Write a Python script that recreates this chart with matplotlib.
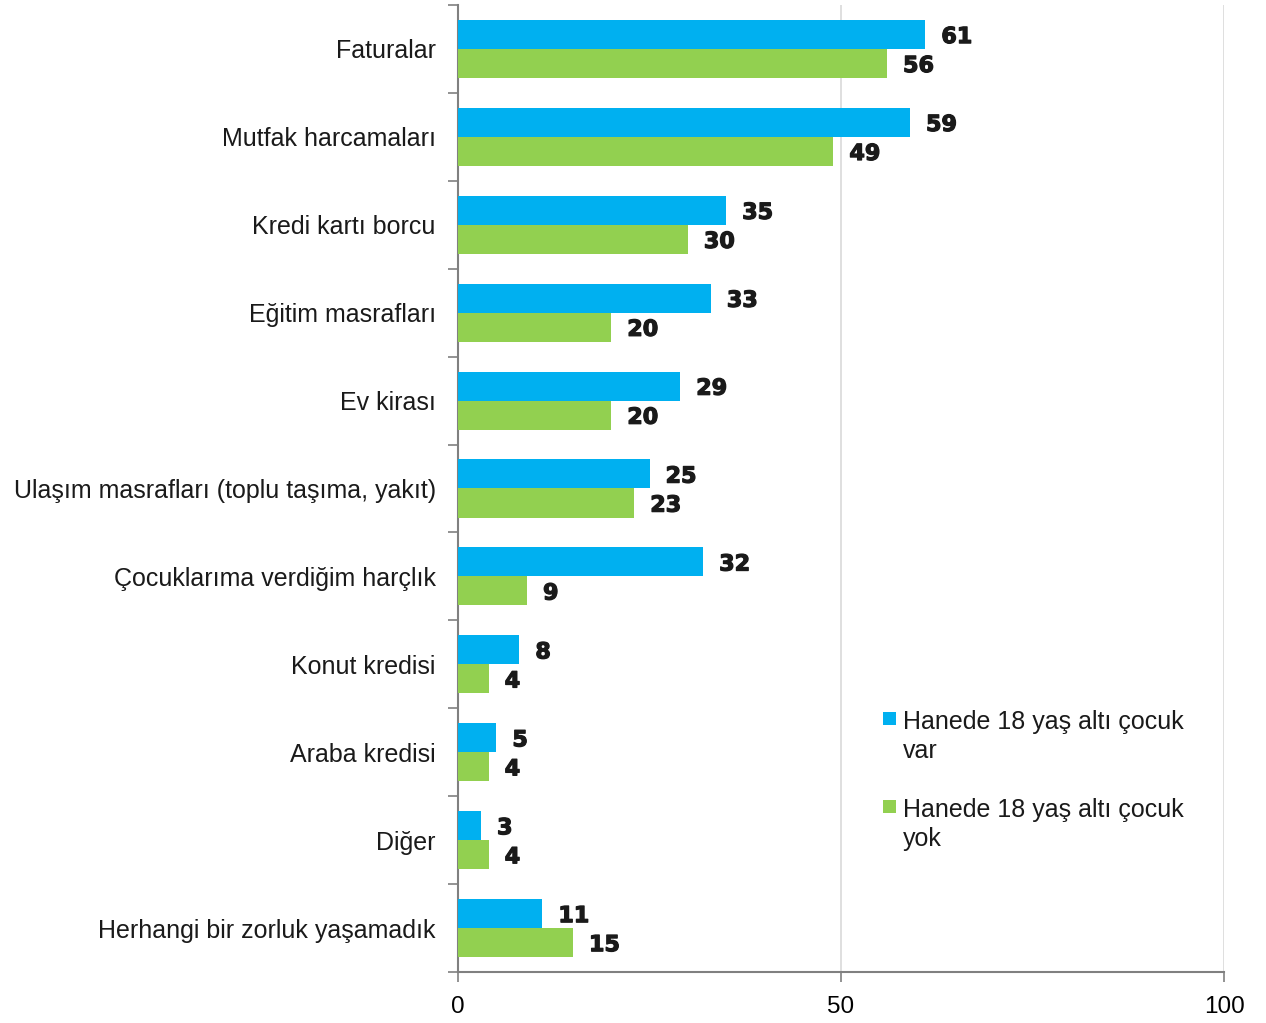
import matplotlib
matplotlib.use("Agg")
import matplotlib.pyplot as plt
import numpy as np
from matplotlib.patches import Rectangle
import matplotlib.patheffects as pe

categories = ["Faturalar", "Mutfak harcamaları", "Kredi kartı borcu", "Eğitim masrafları",
              "Ev kirası", "Ulaşım masrafları (toplu taşıma, yakıt)", "Çocuklarıma verdiğim harçlık",
              "Konut kredisi", "Araba kredisi", "Diğer", "Herhangi bir zorluk yaşamadık"]
with_child = [61, 59, 35, 33, 29, 25, 32, 8, 5, 3, 11]
without_child = [56, 49, 30, 20, 20, 23, 9, 4, 4, 4, 15]
series_names = [["Hanede 18 yaş altı çocuk", "var"], ["Hanede 18 yaş altı çocuk", "yok"]]
xticks = [0, 50, 100]

blue = "#00B0F0"
green = "#92D050"
label_font = "Liberation Sans"
num_font = "DejaVu Sans"

W, H = 1266, 1023
fig = plt.figure(figsize=(W/100, H/100), dpi=100)
ax = fig.add_axes([458/W, 1-972/H, (1224-458)/W, (972-5)/H])

n = len(categories)
y = np.arange(n)
h = 0.33
ax.barh(y - h/2, with_child, height=h, color=blue, zorder=3)
ax.barh(y + h/2, without_child, height=h, color=green, zorder=3)

stroke = [pe.withStroke(linewidth=0.9, foreground="#1a1a1a")]
for yi, v in zip(y, with_child):
    ax.text(v + 2.1, yi - h/2 + 0.03, str(v), va="center", ha="left", fontsize=16,
            fontweight="bold", family=num_font, color="#1a1a1a", path_effects=stroke)
for yi, v in zip(y, without_child):
    ax.text(v + 2.1, yi + h/2 + 0.03, str(v), va="center", ha="left", fontsize=16,
            fontweight="bold", family=num_font, color="#1a1a1a", path_effects=stroke)

ax.set_xlim(0, 100)
ax.set_ylim(n - 0.5, -0.5)
ax.set_xticks(xticks)
ax.set_xticklabels([str(t) for t in xticks], fontsize=17.5, family=label_font)
ax.set_yticks(y)
ax.set_yticklabels(categories, fontsize=18, family=label_font, color="#1a1a1a")
ax.tick_params(axis="y", length=0, pad=16)
ax.set_yticks(np.arange(-0.5, n, 1), minor=True)
ax.tick_params(axis="y", which="minor", length=7, color="#808080", width=1.2)
ax.tick_params(axis="x", length=7, color="#808080", width=1.2, pad=10, direction="out")

for s in ["top", "right"]:
    ax.spines[s].set_visible(False)
for s in ["left", "bottom"]:
    ax.spines[s].set_color("#808080")
    ax.spines[s].set_linewidth(1.5)

ax.xaxis.grid(True, color="#d9d9d9", linewidth=1.2, zorder=0)
ax.set_axisbelow(True)

# Legend drawn manually (square aligned with first text line)
leg_colors = [blue, green]
leg_tops = [712, 800]  # square top, pixels from top
for col, top, lines in zip(leg_colors, leg_tops, series_names):
    fig.patches.append(Rectangle((883/W, 1-(top+13)/H), 13/W, 13/H,
                                 transform=fig.transFigure, facecolor=col, edgecolor="none"))
    for k, line in enumerate(lines):
        base = top + 17 + k*29
        fig.text(903/W, 1-base/H, line, ha="left", va="baseline",
                 family=label_font, fontsize=18, color="#1a1a1a")

fig.savefig("out.png", dpi=100)
